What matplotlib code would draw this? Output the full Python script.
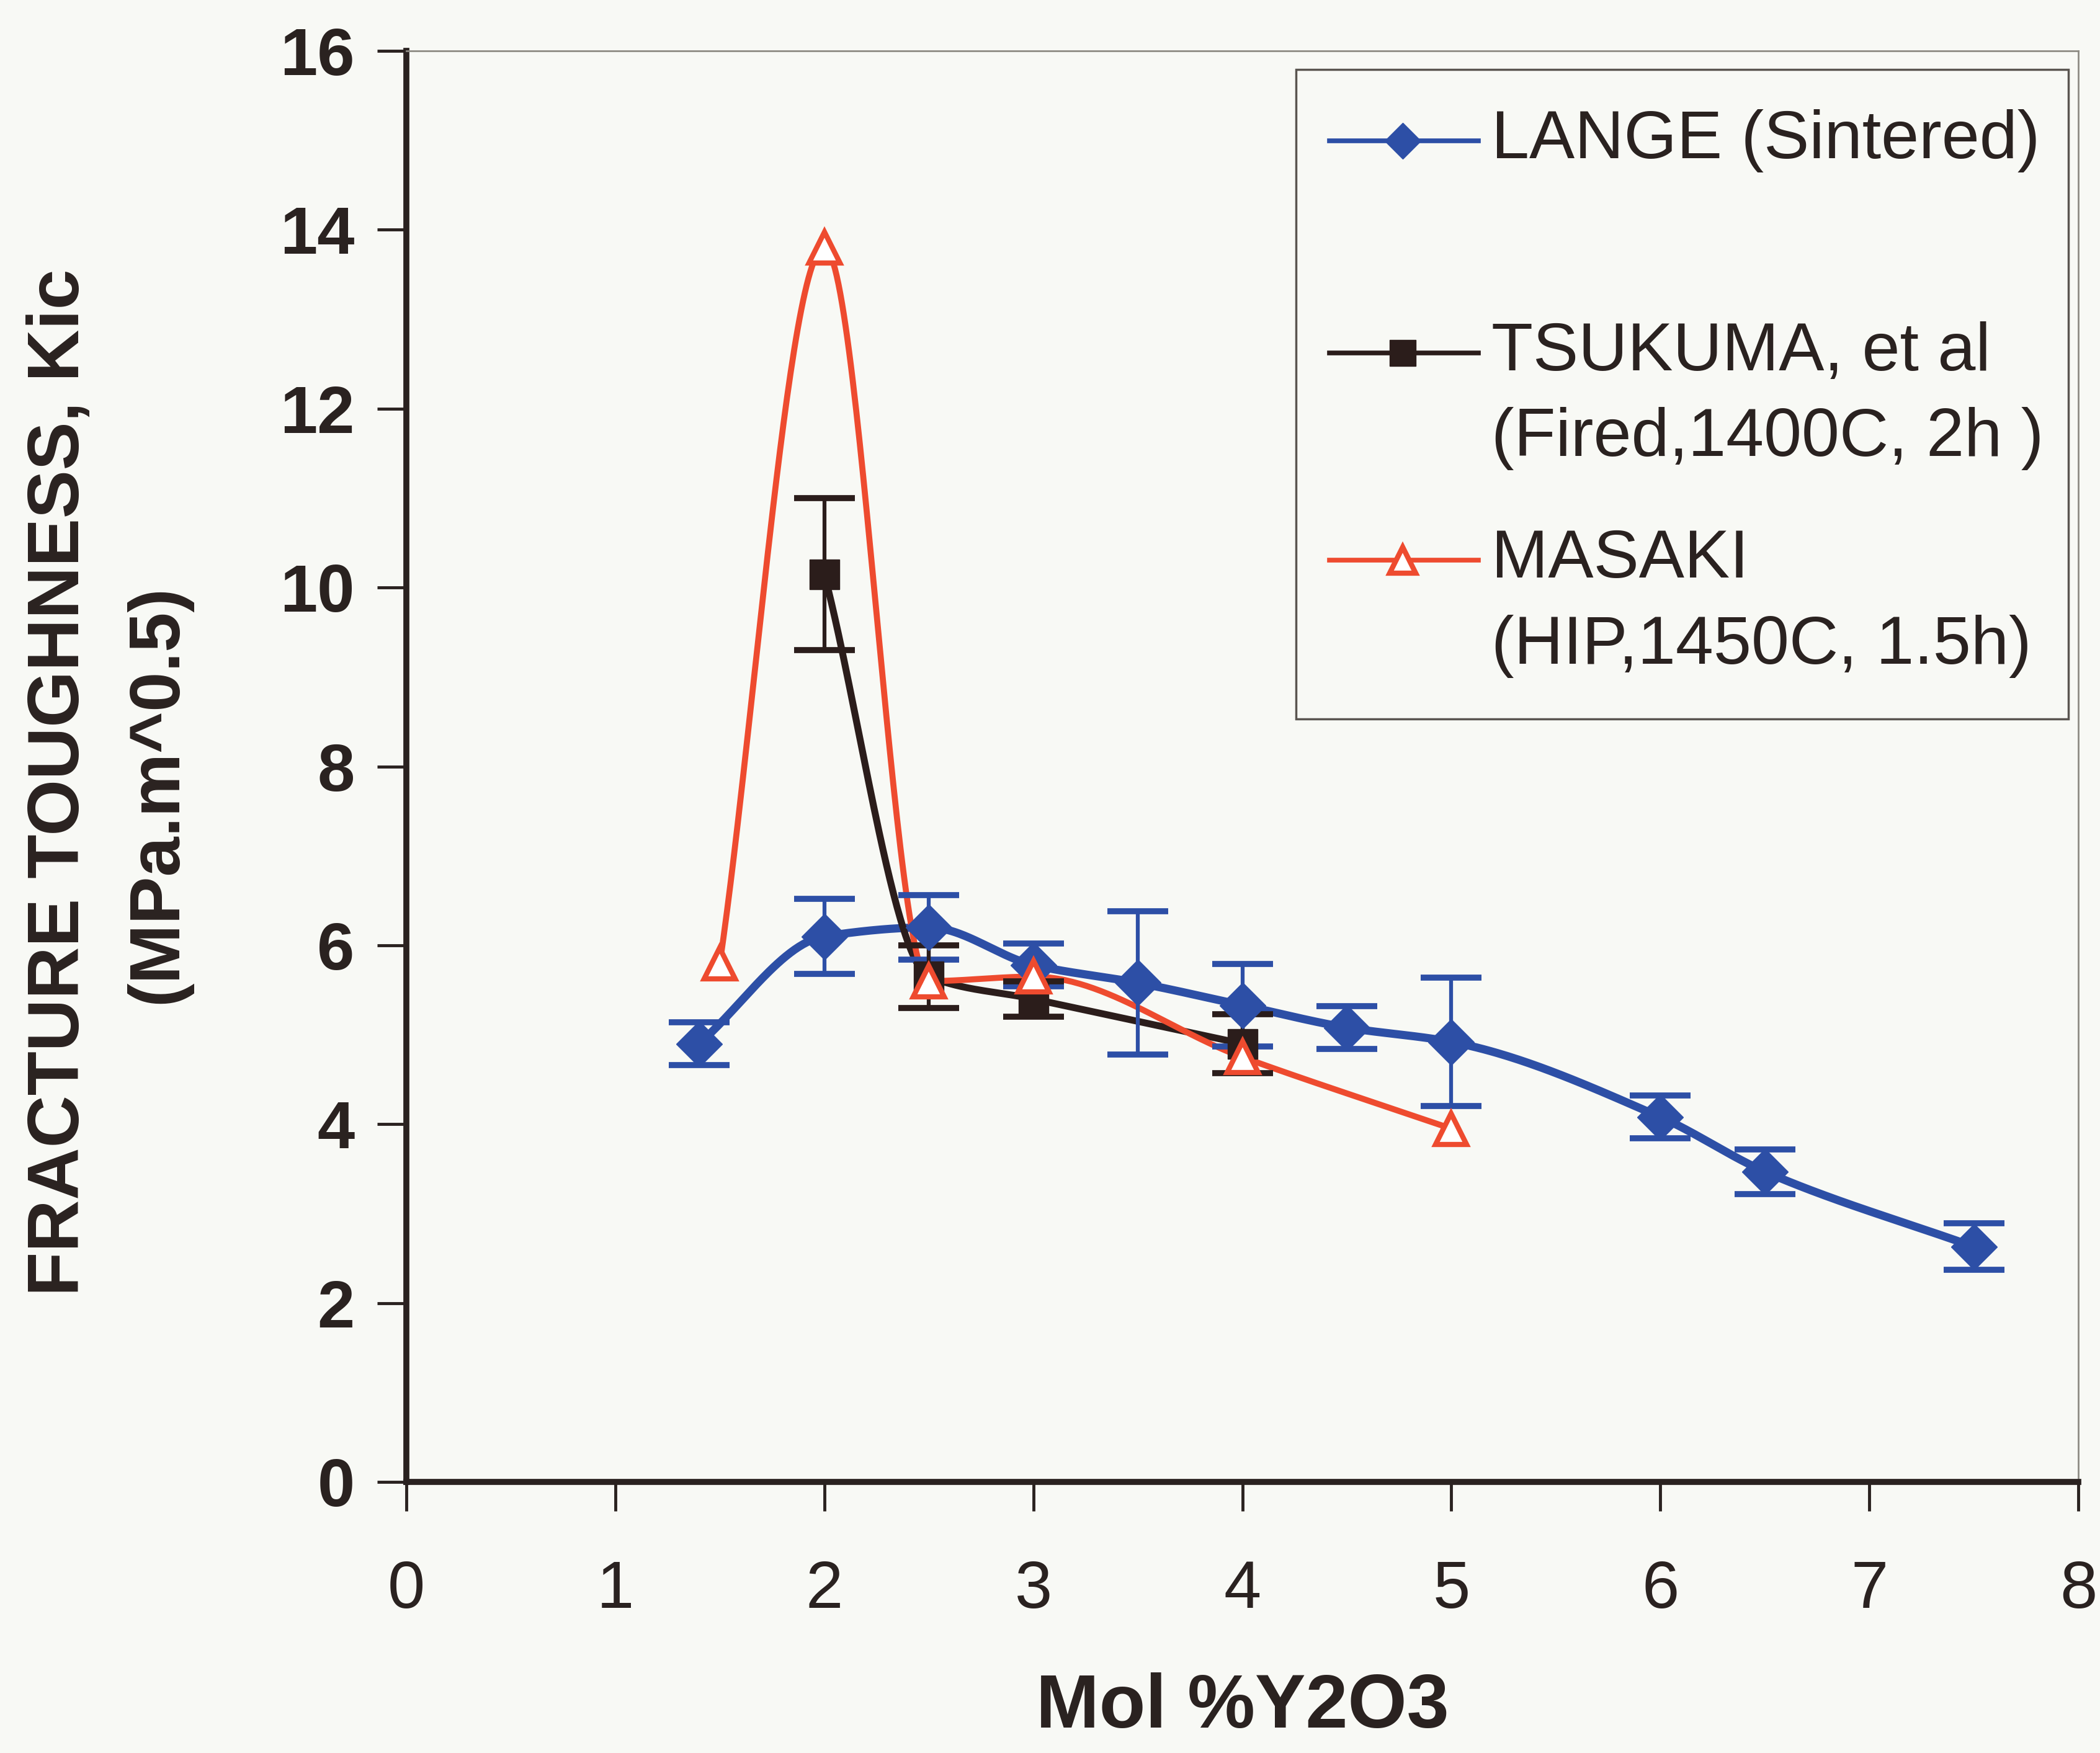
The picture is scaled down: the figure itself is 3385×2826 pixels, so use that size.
import numpy as np
import matplotlib
matplotlib.use("Agg")
import matplotlib.pyplot as plt
from matplotlib.patches import Rectangle
from matplotlib.lines import Line2D

plt.rcParams['font.family'] = ['Liberation Sans', 'DejaVu Sans']

# LANGE (sintered)
lange_x = [1.4, 2.0, 2.5, 3.0, 3.5, 4.0, 4.5, 5.0, 6.0, 6.5, 7.5]
lange_y = [4.9, 6.1, 6.2, 5.78, 5.58, 5.33, 5.08, 4.92, 4.08, 3.47, 2.63]
lange_err = [0.24, 0.42, 0.36, 0.24, 0.8, 0.46, 0.24, 0.72, 0.24, 0.25, 0.26]

# TSUKUMA et al (fired)
tsu_x = [2.0, 2.5, 3.0, 4.0]
tsu_y = [10.15, 5.65, 5.4, 4.9]
tsu_err = [0.85, 0.35, 0.2, 0.33]

# MASAKI (HIP)
mas_x = [1.5, 2.0, 2.5, 3.0, 4.0, 5.0]
mas_y = [5.8, 13.8, 5.6, 5.65, 4.75, 3.95]

x_ticks = [0, 1, 2, 3, 4, 5, 6, 7, 8]
y_ticks = [0, 2, 4, 6, 8, 10, 12, 14, 16]

BLUE = '#2d4fa6'
BLACK = '#2b1d1b'
RED = '#ee4b2f'
INK = '#2a2220'


def smooth(xs, ys, n=60):
    # monotone cubic (Fritsch-Carlson) so the curve stays smooth without wiggles
    x = np.asarray(xs, float)
    y = np.asarray(ys, float)
    h = np.diff(x)
    d = np.diff(y) / h
    m = np.zeros_like(y)
    m[0], m[-1] = d[0], d[-1]
    for k in range(1, len(x) - 1):
        if d[k - 1] * d[k] > 0:
            w1 = 2 * h[k] + h[k - 1]
            w2 = h[k] + 2 * h[k - 1]
            m[k] = (w1 + w2) / (w1 / d[k - 1] + w2 / d[k])
    px, py = [x[0]], [y[0]]
    t = np.linspace(0, 1, n)[1:]
    for k in range(len(x) - 1):
        h00 = 2 * t**3 - 3 * t**2 + 1
        h10 = t**3 - 2 * t**2 + t
        h01 = -2 * t**3 + 3 * t**2
        h11 = t**3 - t**2
        px.extend(x[k] + t * h[k])
        py.extend(h00 * y[k] + h10 * h[k] * m[k] + h01 * y[k + 1] + h11 * h[k] * m[k + 1])
    return np.array(px), np.array(py)


fig = plt.figure(figsize=(33.85, 28.26), dpi=100, facecolor='#f8f9f5')
ax = fig.add_axes([0.1935, 0.1546, 0.7962, 0.8164])
ax.set_facecolor('#f8f9f5')

# smoothed lines
sx, sy = smooth(lange_x, lange_y)
ax.plot(sx, sy, color=BLUE, lw=9.5, zorder=2, solid_capstyle='round')
sx, sy = smooth(tsu_x, tsu_y)
ax.plot(sx, sy, color=BLACK, lw=8, zorder=2.1, solid_capstyle='round')
sx, sy = smooth(mas_x, mas_y)
ax.plot(sx, sy, color=RED, lw=7, zorder=2.2, solid_capstyle='round')

# error bars
ax.errorbar(lange_x, lange_y, yerr=lange_err, fmt='none', ecolor=BLUE,
            elinewidth=4.5, capsize=35, capthick=7, zorder=2.5)
ax.errorbar(tsu_x, tsu_y, yerr=tsu_err, fmt='none', ecolor=BLACK,
            elinewidth=4.5, capsize=35, capthick=7, zorder=2.6)

# markers
ax.plot(lange_x, lange_y, linestyle='none', marker='D', ms=38, color=BLUE,
        markeredgecolor=BLUE, zorder=3)
ax.plot(tsu_x, tsu_y, linestyle='none', marker='s', ms=34, color=BLACK, zorder=3.1)
ax.plot(mas_x, mas_y, linestyle='none', marker='^', ms=36, markerfacecolor='white',
        markeredgecolor=RED, markeredgewidth=6, zorder=3.2)

ax.set_xlim(0, 8)
ax.set_ylim(0, 16)
ax.set_xticks(x_ticks)
ax.set_yticks(y_ticks)
ax.set_xticklabels([str(v) for v in x_ticks], fontsize=78, color=INK)
ax.set_yticklabels([str(v) for v in y_ticks], fontsize=78, color=INK, fontweight='bold')
ax.tick_params(axis='both', direction='out', length=34, width=3.5, color=INK)
ax.tick_params(axis='x', pad=56)
ax.tick_params(axis='y', pad=26)

for side in ['left', 'bottom']:
    ax.spines[side].set_linewidth(7)
    ax.spines[side].set_color(INK)
for side in ['top', 'right']:
    ax.spines[side].set_linewidth(2)
    ax.spines[side].set_color('#8e8c84')

# legend box
ax.add_patch(Rectangle((0.532, 0.533), 0.462, 0.454, transform=ax.transAxes,
                       facecolor='#f8f9f5', edgecolor='#5a5550', lw=2.5, zorder=4))
legend_rows = [
    (0.937, BLUE, dict(marker='D', ms=30, color=BLUE)),
    (0.789, BLACK, dict(marker='s', ms=30, color=BLACK)),
    (0.644, RED, dict(marker='^', ms=30, markerfacecolor='white', markeredgecolor=RED,
                      markeredgewidth=6)),
]
for yy, col, mk in legend_rows:
    ax.add_line(Line2D([0.552, 0.641], [yy, yy], transform=ax.transAxes, color=col,
                       lw=5.5, zorder=5))
    ax.add_line(Line2D([0.596], [yy], transform=ax.transAxes, linestyle='none',
                       zorder=6, **mk))

legend_text = [
    (0.937, 'LANGE (Sintered)'),
    (0.789, 'TSUKUMA, et al'),
    (0.729, '(Fired,1400C, 2h )'),
    (0.644, 'MASAKI'),
    (0.584, '(HIP,1450C, 1.5h)'),
]
for yy, s in legend_text:
    ax.text(0.649, yy, s, transform=ax.transAxes, fontsize=79, color=INK,
            va='center', ha='left', zorder=6)

# axis titles
fig.text(0.0284, 0.5538, 'FRACTURE TOUGHNESS, Kic', rotation=90, fontsize=84,
         fontweight='bold', color=INK, ha='center', va='center')
fig.text(0.075, 0.547, '(MPa.m^0.5)', rotation=90, fontsize=83,
         fontweight='bold', color=INK, ha='center', va='center')
fig.text(0.5917, 0.026, 'Mol %Y2O3', fontsize=88, fontweight='bold', color=INK,
         ha='center', va='center')

fig.savefig('out.png', dpi=100, facecolor=fig.get_facecolor())
